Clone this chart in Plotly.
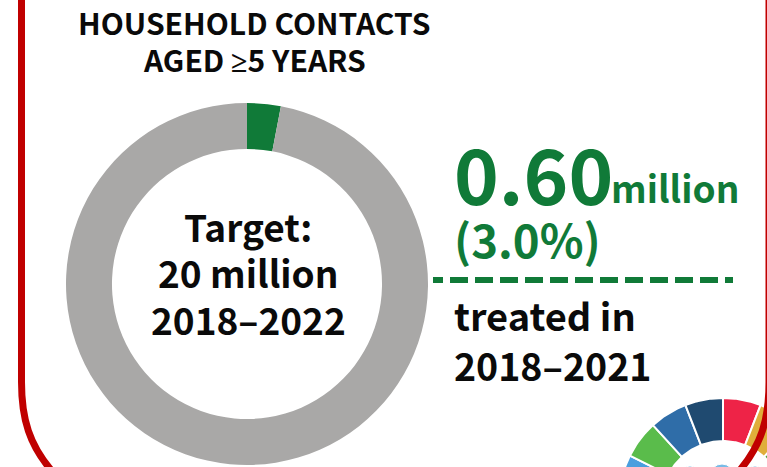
import numpy as np
import plotly.graph_objects as go

# Household contacts treated against the 2018-2022 target (millions)
ring_labels = ["Treated", "Remaining"]
ring_values = [0.60, 19.40]
ring_colors = ["#107A38", "#A9A8A7"]

# Sustainable Development Goals wheel, clockwise from twelve o'clock
goal_shares = [1] * 17
goal_colors = ["#EE2347", "#E0AE3A", "#4C9F38", "#C5192D", "#FF3A21", "#26BDE2",
               "#FCC30B", "#A21942", "#FD6925", "#DD1367", "#FD9D24", "#BF8B2E",
               "#3F7E44", "#4A9FDE", "#5ABC4B", "#2F6DA8", "#1F4A70"]

INK = "#0A0A0A"
GREEN = "#107A38"
WIDTH, HEIGHT = 767, 467
FONT = "Noto Sans CJK SC"

fig = go.Figure()

# Wheel in the lower right corner, cut off by the page edge
cx, cy, r_out, r_in = 723, 502, 104, 61
edges = np.cumsum([0] + goal_shares) / sum(goal_shares) * 2 * np.pi
for start, stop, color in zip(edges[:-1], edges[1:], goal_colors):
    t = np.linspace(start, stop, 24)
    xs = np.r_[cx + r_out * np.sin(t), cx + r_in * np.sin(t[::-1])]
    ys = np.r_[cy - r_out * np.cos(t), cy - r_in * np.cos(t[::-1])]
    fig.add_trace(go.Scatter(
        x=np.r_[xs, xs[0]], y=np.r_[ys, ys[0]], mode="lines", fill="toself",
        fillcolor=color, line=dict(color="#FFFFFF", width=2), hoverinfo="skip",
    ))

# Tops of the figures in the middle of the wheel
fig.add_trace(go.Scatter(
    x=[690, 722, 755], y=[474, 476, 474], mode="markers",
    marker=dict(color="#3F9FDC", size=[16, 24, 16]), hoverinfo="skip",
))

# Divider between the headline figure and its caption
dash_run = ["10px", "7px"] + ["18px", "7px"] * 11 + ["10px"]
fig.add_trace(go.Scatter(
    x=[433, 733], y=[280, 280], mode="lines",
    line=dict(color=GREEN, width=6, dash=",".join(dash_run)), hoverinfo="skip",
))

# Progress ring
fig.add_trace(go.Pie(
    labels=ring_labels, values=ring_values, hole=0.746, sort=False,
    direction="clockwise", rotation=0, textinfo="none", hoverinfo="skip",
    marker=dict(colors=ring_colors, line=dict(width=0)),
    domain=dict(x=[66 / WIDTH, 428 / WIDTH], y=[2 / HEIGHT, 364 / HEIGHT]),
    showlegend=False,
))


def label(text, x, y, size, color=INK, anchor="center"):
    fig.add_annotation(
        x=x, y=y, text=f"<b>{text}</b>", showarrow=False, xanchor=anchor, yanchor="middle",
        font=dict(family=FONT, size=size, color=color),
    )


label("HOUSEHOLD CONTACTS", 254, 22, 30)
label("AGED <span style='font-family:Noto Sans'>≥</span>5 YEARS", 254, 59, 30)
label("Target:", 248, 226, 37)
label("20 million", 248, 272, 37)
label("2018–2022", 248, 319, 37)
label("0.60", 452, 172, 76, GREEN, "left")
label("million", 609, 187, 37, GREEN, "left")
label("(3.0%)", 452, 238, 45.5, GREEN, "left")
label("treated in", 452, 314, 38, INK, "left")
label("2018–2021", 452, 364, 37.5, INK, "left")

# Rounded red panel outline, open past the bottom edge
frame = ("M 21.5 -10 L 21.5 382 C 21.5 420 30 445 51 470 "
         "M 769 -10 L 769 382 C 769 420 761 445 740 470")
fig.add_shape(type="path", path=frame, line=dict(color="#C00000", width=7), layer="above")

fig.update_layout(
    width=WIDTH, height=HEIGHT, margin=dict(l=0, r=0, t=0, b=0),
    paper_bgcolor="#FFFFFF", plot_bgcolor="#FFFFFF", showlegend=False,
    xaxis=dict(range=[0, WIDTH], visible=False, fixedrange=True),
    yaxis=dict(range=[HEIGHT, 0], visible=False, fixedrange=True),
)

fig.write_html("out.html", config=dict(displayModeBar=False))
